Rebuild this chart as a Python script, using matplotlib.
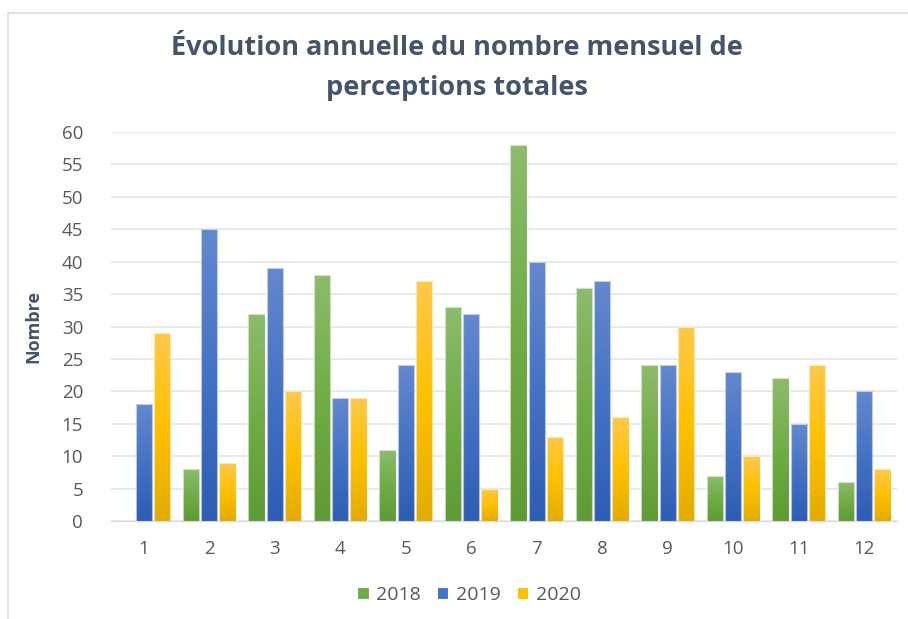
import matplotlib
matplotlib.use("Agg")
import matplotlib.pyplot as plt
import numpy as np
from matplotlib.colors import LinearSegmentedColormap
from matplotlib.patches import Rectangle

months = [str(i) for i in range(1, 13)]
years = ["2018", "2019", "2020"]
v2018 = [0, 8, 32, 38, 11, 33, 58, 36, 24, 7, 22, 6]
v2019 = [18, 45, 39, 19, 24, 32, 40, 37, 24, 23, 15, 20]
v2020 = [29, 9, 20, 19, 37, 5, 13, 16, 30, 10, 24, 8]
series = [v2018, v2019, v2020]
base_colors = ["#70AD47", "#4472C4", "#FFC000"]
grad = [("#5E9B34", "#8DBC6C"), ("#2D5DB4", "#6588CF"), ("#E2AC00", "#FFC94A")]

plt.rcParams['font.family'] = ['Open Sans', 'DejaVu Sans']
fig = plt.figure(figsize=(9.08, 6.19), dpi=100)
fig.patches.append(Rectangle((8/908, -0.1), 1.2, (1 - 13/619) + 0.1, transform=fig.transFigure,
                             fill=False, edgecolor="#D9DDE3", linewidth=1.2))
ax = fig.add_axes([111/908, 1 - 521/619, (897 - 111)/908, (521 - 132)/619])

x = np.arange(len(months))
offsets = [-0.28, 0.0, 0.28]
width = 0.25
for s, vals in enumerate(series):
    bars = ax.bar(x + offsets[s], vals, width, color=base_colors[s], label=years[s],
                  edgecolor="white", linewidth=0.8, zorder=3)
    cmap = LinearSegmentedColormap.from_list("g%d" % s, [grad[s][0], base_colors[s], grad[s][1]])
    for b in bars:
        if b.get_height() <= 0:
            continue
        bx, by, bw, bh = b.get_x(), b.get_y(), b.get_width(), b.get_height()
        im = ax.imshow(np.linspace(0, 1, 256).reshape(-1, 1),
                       cmap=cmap, origin="lower", aspect="auto",
                       extent=(bx, bx + bw, by, by + bh), zorder=3.5)
        im.set_clip_path(b)
        ax.add_patch(Rectangle((bx, by), bw, bh, fill=False, edgecolor="#FFFFFF",
                               linewidth=0.8, alpha=0.6, zorder=4))

ax.set_xlim(-0.5, 11.5)
ax.set_ylim(0, 60)
ax.set_yticks(range(0, 61, 5))
ax.set_xticks(x)
ax.set_xticklabels(months)
ax.grid(axis="y", color="#E3E6EA", linewidth=1.2, zorder=0)
ax.set_axisbelow(True)
for sp in ax.spines.values():
    sp.set_visible(False)
ax.spines["bottom"].set_visible(True)
ax.spines["bottom"].set_color("#D9D9D9")
ax.tick_params(axis="both", length=0, colors="#595959", labelsize=13.5)
ax.tick_params(axis="x", pad=14)
ax.tick_params(axis="y", pad=20)
ax.set_ylabel("Nombre", fontsize=13, fontweight="bold", color="#44546A", labelpad=14)

fig.text(0.503, 1 - 48/619, "Évolution annuelle du nombre mensuel de", ha="center", va="center",
         fontsize=19.5, fontweight="bold", color="#44546A")
fig.text(0.503, 1 - 88/619, "perceptions totales", ha="center", va="center",
         fontsize=19.5, fontweight="bold", color="#44546A")

leg = fig.legend(loc="center", bbox_to_anchor=(469/908, 1 - 595/619), ncol=3, frameon=False,
                 fontsize=14, handlelength=0.6, handleheight=0.6, handletextpad=0.4,
                 columnspacing=0.8)
for t in leg.get_texts():
    t.set_color("#595959")

fig.savefig("out.png", dpi=100, facecolor="white")
